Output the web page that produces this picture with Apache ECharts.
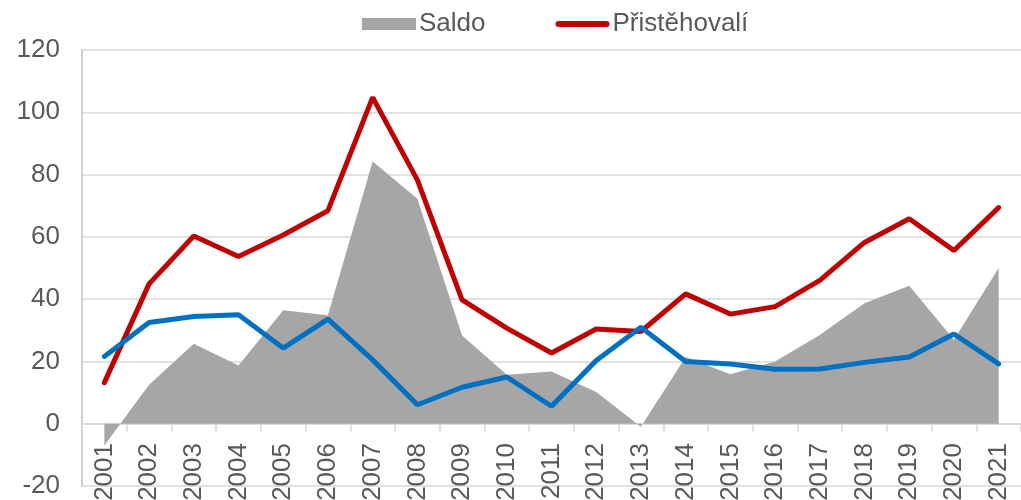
<!DOCTYPE html>
<html>
<head>
<meta charset="utf-8">
<script src="https://cdn.jsdelivr.net/npm/echarts@6/dist/echarts.min.js"></script>
<style>
html,body{margin:0;padding:0;background:#fff;}
#chart{width:1021px;height:500px;}
</style>
</head>
<body>
<div id="chart"></div>
<script>
const years = ['2001','2002','2003','2004','2005','2006','2007','2008','2009','2010','2011','2012','2013','2014','2015','2016','2017','2018','2019','2020','2021'];
const saldo = [-7, 12.5, 25.7, 18.7, 36.4, 34.8, 84.2, 72.2, 28.3, 15.7, 16.8, 10.2, -1, 21.4, 15.9, 20.0, 28.5, 38.7, 44.3, 27, 50];
const pristehovali = [13.2, 44.9, 60.3, 53.7, 60.6, 68.4, 104.8, 78.3, 39.8, 30.7, 22.7, 30.4, 29.6, 41.7, 35.2, 37.6, 46.0, 58.2, 65.8, 55.6, 69.4];
const vystehovali = [21.6, 32.5, 34.4, 35.0, 24.3, 33.6, 20.5, 6.1, 11.7, 15.0, 5.6, 20.3, 31.0, 20.0, 19.2, 17.5, 17.6, 19.7, 21.4, 28.8, 19.2];
const yMin = -20, yMax = 120, yStep = 20;

const FONT = 'Liberation Sans, Arial, sans-serif';
const TXT = '#595959';
const chart = echarts.init(document.getElementById('chart'), null, {renderer: 'canvas'});
chart.setOption({
  animation: false,
  backgroundColor: '#ffffff',
  legend: {
    left: 357, top: 6,
    itemWidth: 54, itemHeight: 12, itemGap: 70,
    textStyle: {fontFamily: FONT, fontSize: 26, color: TXT, padding: [0,0,0,-2]},
    data: [
      {name: 'Saldo', icon: 'rect'},
      {name: 'Přistěhovalí', icon: 'path://M3,0 L51,0 A3,3 0 0 1 51,6 L3,6 A3,3 0 0 1 3,0 Z', itemStyle: {color: '#c00000'}}
    ]
  },
  grid: {left: 82, right: 0, top: 50, bottom: 14, containLabel: false, outerBoundsMode: 'none'},
  xAxis: {
    type: 'category',
    data: years,
    boundaryGap: true,
    axisLine: {onZero: true, lineStyle: {color: '#d9d9d9', width: 1.5}},
    axisTick: {show: true, length: 8, lineStyle: {color: '#d9d9d9', width: 1.5}},
    axisLabel: {rotate: 90, interval: 0, margin: -43, hideOverlap: false, fontFamily: FONT, fontSize: 26, color: TXT},
    splitLine: {show: false}
  },
  yAxis: {
    type: 'value',
    min: yMin, max: yMax, interval: yStep,
    axisLine: {show: true, lineStyle: {color: '#bfbfbf', width: 1.5}},
    axisTick: {show: false},
    axisLabel: {margin: 22, fontFamily: FONT, fontSize: 26, color: TXT},
    splitLine: {show: true, lineStyle: {color: '#d9d9d9', width: 1.5}}
  },
  series: [
    {
      name: 'Saldo', type: 'line', data: saldo,
      symbol: 'none', showSymbol: false,
      lineStyle: {width: 0, color: '#a6a6a6'},
      itemStyle: {color: '#a6a6a6'},
      areaStyle: {color: '#a6a6a6', opacity: 1, origin: 0},
      z: 1
    },
    {
      name: 'Přistěhovalí', type: 'line', data: pristehovali,
      symbol: 'none', showSymbol: false,
      lineStyle: {width: 5, color: '#c00000', cap: 'round'},
      itemStyle: {color: '#c00000'},
      z: 3
    },
    {
      name: 'Vystěhovalí', type: 'line', data: vystehovali,
      symbol: 'none', showSymbol: false,
      lineStyle: {width: 5, color: '#0070c0', cap: 'round'},
      itemStyle: {color: '#0070c0'},
      z: 4
    }
  ]
});
</script>
</body>
</html>
